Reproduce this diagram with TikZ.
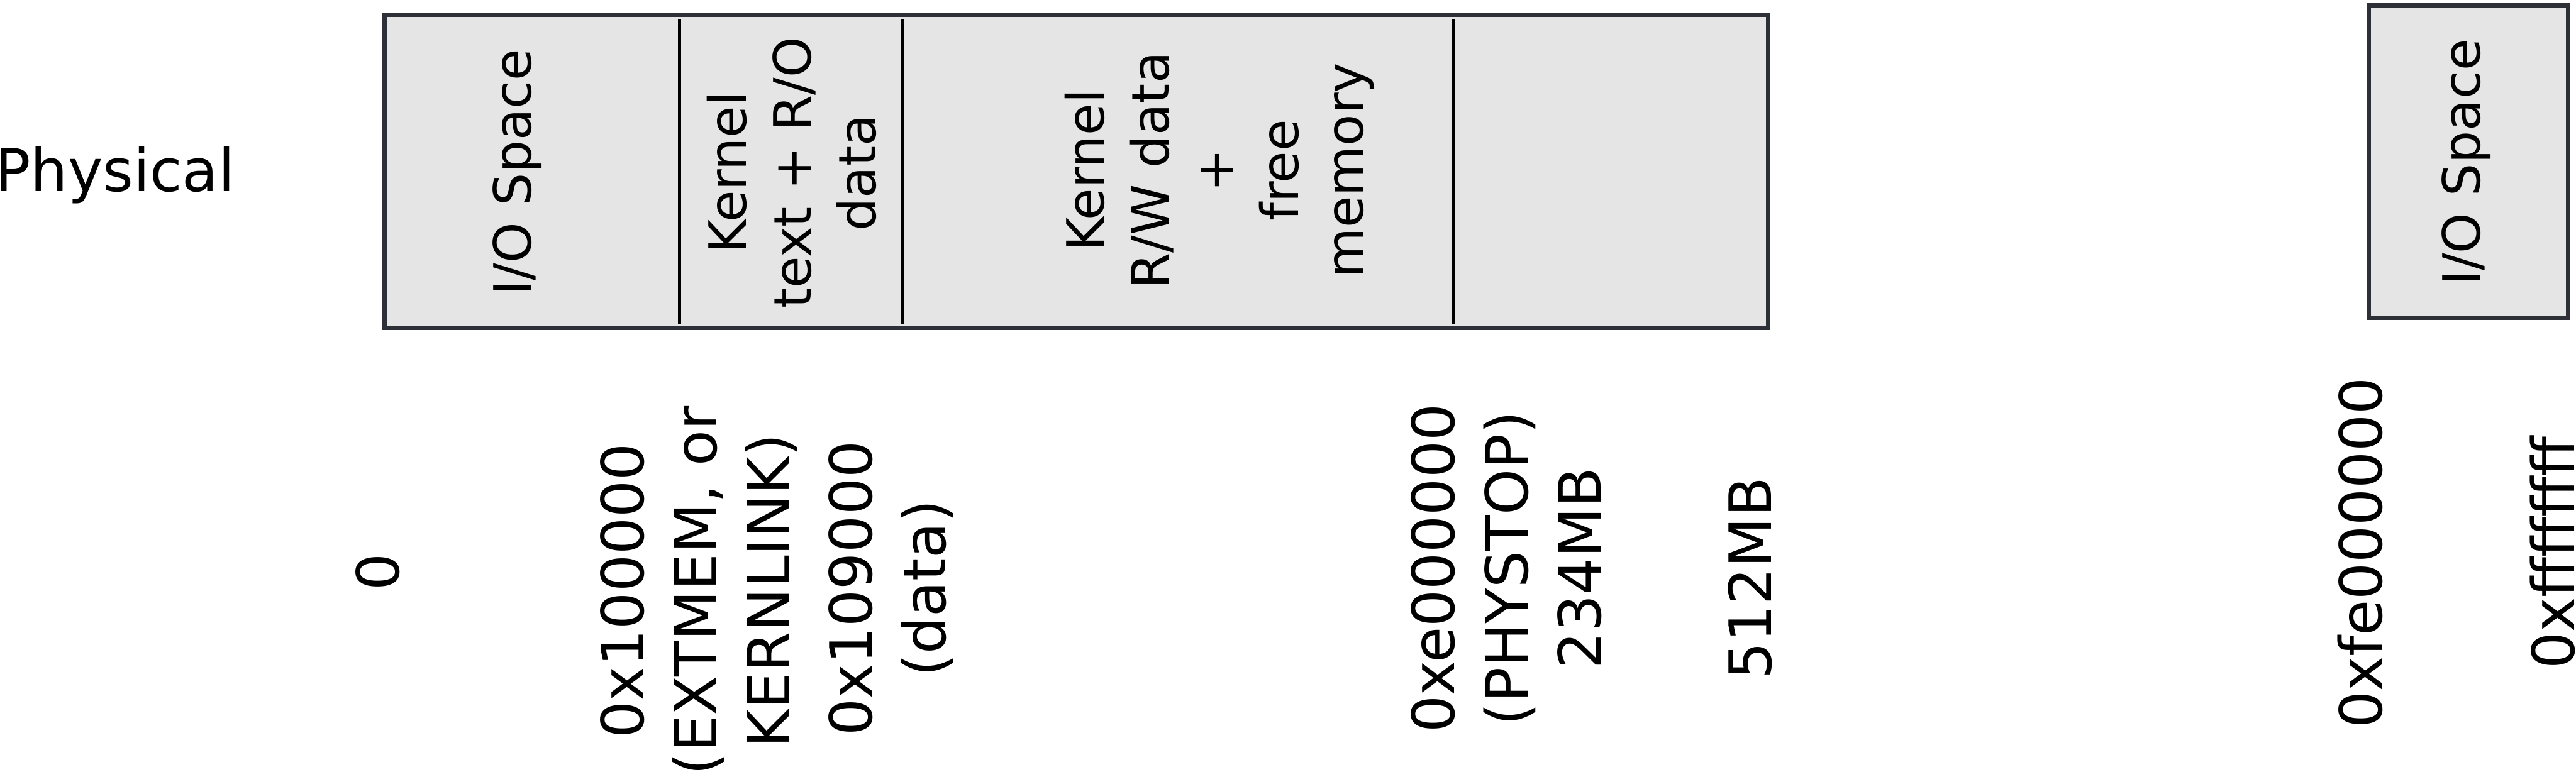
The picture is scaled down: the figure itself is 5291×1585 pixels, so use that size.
\documentclass[tikz,border=0pt]{standalone}
\usepackage{fontspec}
\setmainfont{DejaVu Sans}
\definecolor{bordercol}{HTML}{2E3038}
\definecolor{fillcol}{HTML}{E5E5E5}
\begin{document}
\begin{tikzpicture}[x=0.1pt,y=-0.1pt,
  region/.style={draw=bordercol, fill=fillcol, line width=0.85pt},
  divider/.style={draw=black, line width=0.7pt},
  lbl/.style={font=\fontsize{12}{15}\selectfont, rotate=90, inner sep=0pt, align=center},
  boxtxt/.style={font=\fontsize{10.6}{13.3}\selectfont, rotate=90, inner sep=0pt, align=center},
  side/.style={font=\fontsize{12.1}{15}\selectfont, inner sep=0pt}
]
\useasboundingbox (0,0) rectangle (5291,1585);

% boxes
\draw[region] (790,31) rectangle (3632,674);
\draw[region] (4866,11) rectangle (5275,653);

% dividers
\coordinate (d1t) at (1396,39); \coordinate (d1b) at (1396,666);
\coordinate (d2t) at (1854,39); \coordinate (d2b) at (1854,666);
\coordinate (d3t) at (2985,39); \coordinate (d3b) at (2985,666);
\draw[divider] (d1t) -- (d1b);
\draw[divider] (d2t) -- (d2b);
\draw[divider] (d3t) -- (d3b);

% side label
\node[side, anchor=base west] (phys) at (-12,393) {Physical};

% texts in boxes
\node[boxtxt, anchor=base] (io1) at (1091,354) {I/O Space};
\node[boxtxt, anchor=center] (ktext) at (1626,355) {Kernel\\text + R/O\\data};
\node[boxtxt, anchor=center] (kdata) at (2504,350) {Kernel\\R/W data\\+\\free\\memory};
\node[boxtxt, anchor=base] (io2) at (5094,334) {I/O Space};

% address labels
\node[lbl, anchor=base] (a0) at (819,1175) {0};
\node[lbl, anchor=center] (a1) at (1435,1214) {0x100000\\(EXTMEM, or\\KERNLINK)};
\node[lbl, anchor=center] (a2) at (1830,1209) {0x109000\\(data)};
\node[lbl, anchor=center] (a3) at (3094,1168) {0xe000000\\(PHYSTOP)\\234MB};
\node[lbl, anchor=base] (a4) at (3638,1188) {512MB};
\node[lbl, anchor=base] (a5) at (4893,1136) {0xfe000000};
\node[lbl, anchor=base] (a6) at (5288,1136) {0xffffffff};
\end{tikzpicture}
\end{document}
